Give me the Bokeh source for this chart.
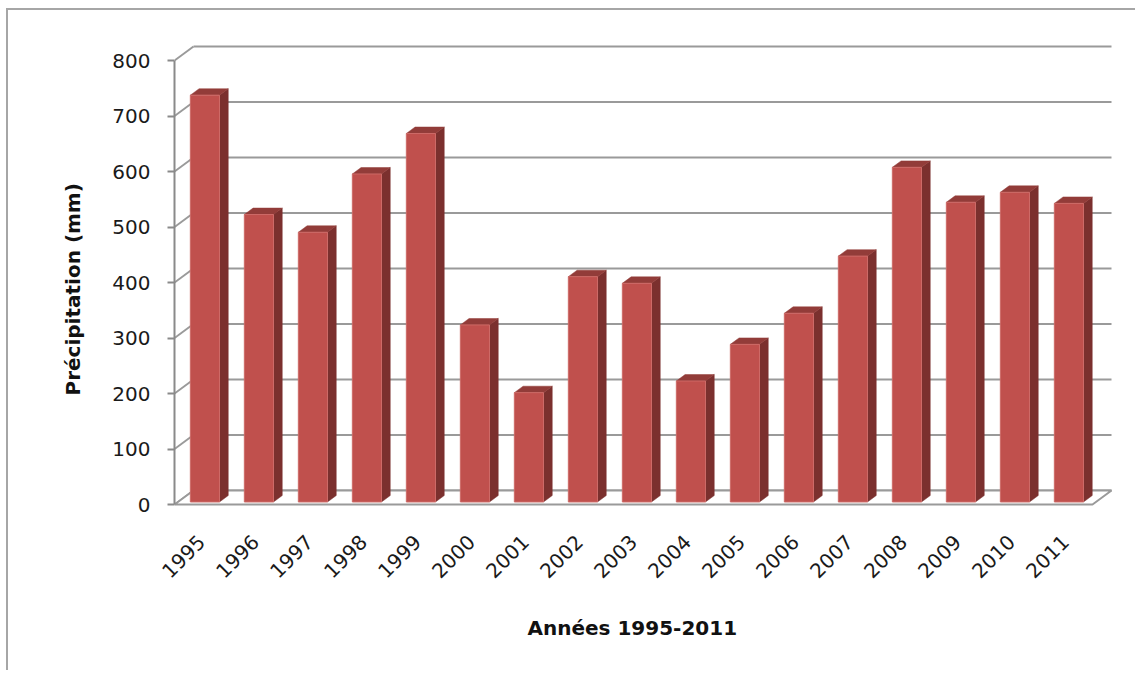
import math
import numpy as np
from bokeh.plotting import figure
from bokeh.models import FixedTicker, Range1d, Title
from bokeh.embed import file_html
from bokeh.resources import INLINE

# ---- data ----
years = ["1995", "1996", "1997", "1998", "1999", "2000", "2001", "2002", "2003",
         "2004", "2005", "2006", "2007", "2008", "2009", "2010", "2011"]
precip = [733, 518, 486, 591, 664, 319, 197, 406, 394,
          218, 284, 340, 443, 603, 540, 558, 538]
y_ticks = [0, 100, 200, 300, 400, 500, 600, 700, 800]
y_title = "Précipitation (mm)"
x_title = "Années 1995-2011"

# ---- geometry (pixels -> data units) ----
W, H = 1129, 662
LEFT, TOP = 166, 30
FRAME_W, FRAME_H = 938, 468
PX_PER_CAT = 54.0
PX_PER_UNIT = 444 / 800.0
y_start = -4 / PX_PER_UNIT
y_end = y_start + FRAME_H / PX_PER_UNIT
x_end = FRAME_W / PX_PER_CAT
DX = 19 / PX_PER_CAT          # wall depth
DY = 14 / PX_PER_UNIT
F0, F1 = 0.18, 0.64           # bar depth position (fraction of wall depth)
HW = 0.27                     # half bar width (category units)

n = len(precip)
FONT = "DejaVu Sans"
GRID_C = "#9a9a9a"

p = figure(width=W, height=H, x_range=Range1d(0, x_end), y_range=Range1d(y_start, y_end),
           output_backend="svg", toolbar_location=None,
           min_border_left=LEFT, min_border_right=W - LEFT - FRAME_W,
           min_border_top=TOP, min_border_bottom=H - TOP - FRAME_H)
p.styles = {"margin-left": "6px", "margin-top": "8px",
            "border-left": "2px solid #a6a6a6", "border-top": "2px solid #a6a6a6"}
p.outline_line_color = None
p.xgrid.visible = False
p.ygrid.visible = False
p.background_fill_color = "white"
p.border_fill_color = "white"

# ---- walls & floor ----
gx = [[DX, n + DX] for v in y_ticks]
gy = [[v + DY, v + DY] for v in y_ticks]
p.multi_line(gx, gy, line_color=GRID_C, line_width=2)
dx_ = [[0, DX] for v in y_ticks]
dy_ = [[v, v + DY] for v in y_ticks]
p.multi_line(dx_, dy_, line_color=GRID_C, line_width=2)
p.patch([0, n, n + DX, DX], [0, 0, DY, DY], fill_color="white",
        line_color=GRID_C, line_width=2)

# ---- bars ----
xs = np.arange(n) + 0.5
vals = np.array(precip, dtype=float)
xl = xs - HW + F0 * DX
xr = xs + HW + F0 * DX
yb = F0 * DY
yt = vals + F0 * DY
ddx = (F1 - F0) * DX
ddy = (F1 - F0) * DY

side_x = [[r, r + ddx, r + ddx, r] for r in xr]
side_y = [[yb, yb + ddy, t + ddy, t] for t in yt]
p.patches(side_x, side_y, fill_color="#7b302e", line_color="#7b302e", line_width=0.5)
top_x = [[l, r, r + ddx, l + ddx] for l, r in zip(xl, xr)]
top_y = [[t, t, t + ddy, t + ddy] for t in yt]
p.patches(top_x, top_y, fill_color="#923c39", line_color="#923c39", line_width=0.5)
p.quad(left=xl, right=xr, bottom=yb, top=yt, fill_color="#c0504d",
       line_color="#cd6a67", line_width=1)

# ---- axes ----
ya = p.yaxis[0]
ya.ticker = FixedTicker(ticks=y_ticks)
ya.bounds = (0, 800)
ya.axis_line_color = "#8a8a8a"
ya.axis_line_width = 2
ya.major_tick_line_color = "#8a8a8a"
ya.major_tick_line_width = 2
ya.major_tick_out = 7
ya.major_tick_in = 0
ya.minor_tick_line_color = None
ya.major_label_text_font = FONT
ya.major_label_text_font_size = "20px"
ya.major_label_text_color = "#1a1a1a"
ya.major_label_standoff = 17

xa = p.xaxis[0]
xa.ticker = FixedTicker(ticks=list(xs))
xa.major_label_overrides = {float(x): y for x, y in zip(xs, years)}
xa.major_label_orientation = math.pi / 4
xa.axis_line_color = None
xa.major_tick_line_color = None
xa.minor_tick_line_color = None
xa.major_label_text_font = FONT
xa.major_label_text_font_size = "20px"
xa.major_label_text_color = "#1a1a1a"
xa.major_label_standoff = 24

# ---- axis titles (as titles, to allow positioning on the front plane) ----
xt = Title(text=x_title, align="left", offset=353, standoff=52,
           text_font=FONT, text_font_size="20px", text_font_style="bold",
           text_color="#111111")
p.add_layout(xt, "below")
yt_ = Title(text=y_title, align="left", offset=113, standoff=50,
            text_font=FONT, text_font_size="20px", text_font_style="bold",
            text_color="#111111")
p.add_layout(yt_, "left")

open("out.html", "w").write(file_html(p, INLINE))
